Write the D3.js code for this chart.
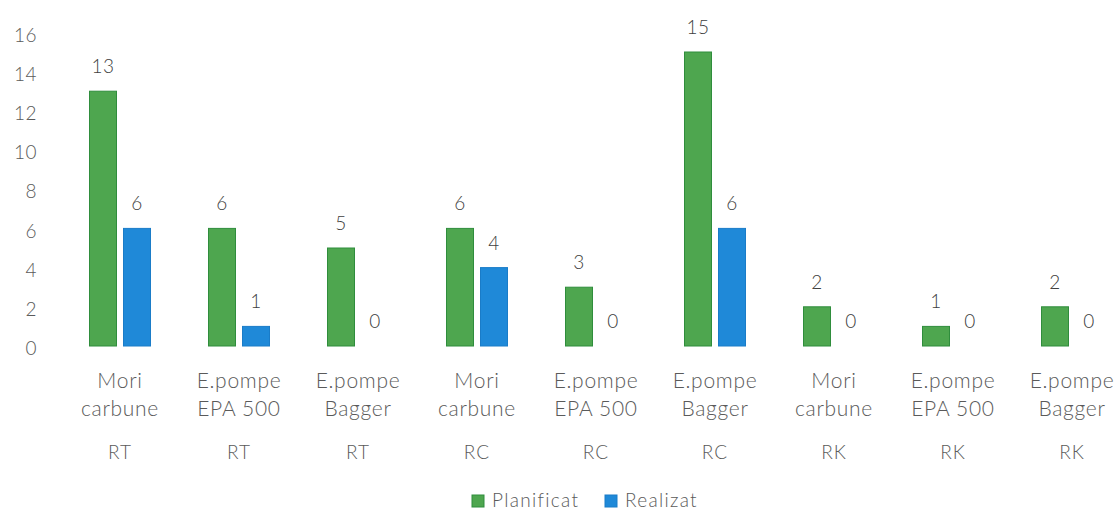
<!DOCTYPE html>
<html>
<head>
<meta charset="utf-8">
<script src="https://cdn.jsdelivr.net/npm/d3@7"></script>
<style>
  html, body { margin: 0; padding: 0; background: #fff; overflow: hidden; }
  svg { display: block; font-family: Lato, "Open Sans", sans-serif; }
</style>
</head>
<body>
<svg id="root"></svg>
<script>
(function () {
  // data
  const items = ["Mori carbune", "E.pompe EPA 500", "E.pompe Bagger",
                 "Mori carbune", "E.pompe EPA 500", "E.pompe Bagger",
                 "Mori carbune", "E.pompe EPA 500", "E.pompe Bagger"];
  const sections = ["RT", "RT", "RT", "RC", "RC", "RC", "RK", "RK", "RK"];
  const series = ["Planificat", "Realizat"];
  const planificat = [13, 6, 5, 6, 3, 15, 2, 1, 2];
  const realizat = [6, 1, 0, 4, 0, 6, 0, 0, 0];
  const yTicks = [0, 2, 4, 6, 8, 10, 12, 14, 16];

  const colors = { Planificat: "#4ea64f", Realizat: "#1f89d8" };
  const strokes = { Planificat: "#2f8d3c", Realizat: "#1a7cc8" };

  const width = 1114, height = 510;
  const svg = d3.select("#root").attr("width", width).attr("height", height);

  const data = items.map((name, i) => ({
    i: i,
    name: name,
    section: sections[i],
    values: [
      { key: "Planificat", value: planificat[i] },
      { key: "Realizat", value: realizat[i] }
    ]
  }));

  let x0 = d3.scaleBand()
    .domain(d3.range(items.length))
    .range([60.5, 60.5 + 119 * items.length]);

  let x1 = d3.scaleBand()
    .domain(series)
    .range([x0.bandwidth() / 2 - 30.5, x0.bandwidth() / 2 + 30.5])
    .paddingInner(0.206);

  let y = d3.scaleLinear()
    .domain([0, 16])
    .range([346, 32.4]);

  // y axis, labels only (no line, no grid)
  let yAxis = svg.append("g")
    .attr("class", "y-axis")
    .attr("transform", "translate(37,0)")
    .call(d3.axisLeft(y).tickValues(yTicks).tickSize(0).tickPadding(0));
  yAxis.select(".domain").remove();
  yAxis.selectAll("text")
    .attr("dy", "0.35em")
    .attr("y", 2)
    .style("font-family", "Lato, sans-serif")
    .style("font-size", "19px")
    .style("font-weight", 300)
    .style("letter-spacing", "0.5px")
    .attr("fill", "#5a5a5a");

  let groups = svg.selectAll(".group")
    .data(data)
    .enter().append("g")
    .attr("class", "group")
    .attr("transform", d => `translate(${x0(d.i)},0)`);

  groups.selectAll("rect")
    .data(d => d.values.filter(v => v.value > 0))
    .enter().append("rect")
    .attr("x", d => x1(d.key))
    .attr("y", d => y(d.value))
    .attr("width", x1.bandwidth())
    .attr("height", d => y(0) - y(d.value))
    .attr("fill", d => colors[d.key])
    .attr("stroke", d => strokes[d.key])
    .attr("stroke-width", 1);

  groups.selectAll(".value")
    .data(d => d.values)
    .enter().append("text")
    .attr("class", "value")
    .attr("x", d => x1(d.key) + x1.bandwidth() / 2)
    .attr("y", d => y(d.value) - 18)
    .attr("text-anchor", "middle")
    .style("font-size", "19px")
    .style("font-weight", 300)
    .style("letter-spacing", "0.5px")
    .attr("fill", "#404040")
    .text(d => d.value);

  // two-level category labels
  let labels = groups.append("text")
    .attr("class", "cat")
    .attr("text-anchor", "middle")
    .style("font-size", "21px")
    .style("font-weight", 300)
    .style("letter-spacing", "0.7px")
    .attr("fill", "#5a5a5a");

  labels.each(function (d) {
    let sp = d.name.indexOf(" ");
    let lines = [d.name.slice(0, sp), d.name.slice(sp + 1)];
    d3.select(this).selectAll("tspan")
      .data(lines)
      .enter().append("tspan")
      .attr("x", x0.bandwidth() / 2)
      .attr("y", (l, j) => 388 + j * 28)
      .text(l => l);
  });

  groups.append("text")
    .attr("class", "section")
    .attr("x", x0.bandwidth() / 2)
    .attr("y", 459)
    .attr("text-anchor", "middle")
    .style("font-size", "19px")
    .style("font-weight", 300)
    .style("letter-spacing", "1px")
    .attr("fill", "#5a5a5a")
    .text(d => d.section);

  // legend
  let legendX = [472, 605];
  let legend = svg.selectAll(".legend")
    .data(series)
    .enter().append("g")
    .attr("class", "legend")
    .attr("transform", (d, i) => `translate(${legendX[i]},495)`);

  legend.append("rect")
    .attr("width", 12)
    .attr("height", 12)
    .attr("fill", d => colors[d])
    .attr("stroke", d => strokes[d]);

  legend.append("text")
    .attr("x", 20)
    .attr("y", 12)
    .style("font-size", "19px")
    .style("font-weight", 300)
    .style("letter-spacing", "1.3px")
    .attr("fill", "#5a5a5a")
    .text(d => d);
})();
</script>
</body>
</html>
